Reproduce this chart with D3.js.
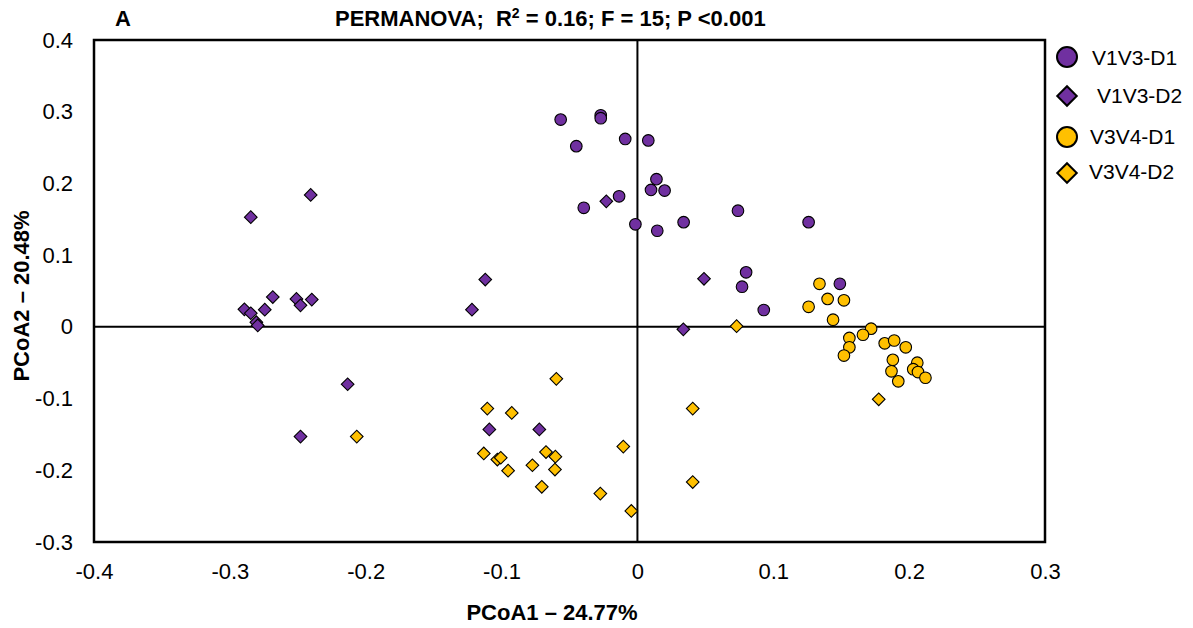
<!DOCTYPE html>
<html>
<head>
<meta charset="utf-8">
<script src="https://cdn.jsdelivr.net/npm/d3@7"></script>
<style>
  html, body { margin: 0; padding: 0; background: #fff; }
  svg text { font-family: "Liberation Sans", Arial, sans-serif; fill: #000; }
</style>
</head>
<body>
<svg id="chart" width="1193" height="628"></svg>
<script>
// PCoA ordination: one array of [PCoA1, PCoA2] pairs per group
const seriesNames = ["V1V3-D1", "V1V3-D2", "V3V4-D1", "V3V4-D2"];

const v1v3D1 = [
  [-0.0565, 0.289], [-0.027, 0.295], [-0.027, 0.291], [-0.009, 0.262], [0.008, 0.260],
  [-0.045, 0.252], [0.014, 0.206], [0.010, 0.191], [0.020, 0.190], [-0.0135, 0.182],
  [-0.0395, 0.166], [-0.0015, 0.143], [0.0146, 0.134], [0.034, 0.146], [0.074, 0.162],
  [0.126, 0.146], [0.080, 0.076], [0.077, 0.056], [0.093, 0.0235], [0.149, 0.060]
];

const v1v3D2 = [
  [-0.2405, 0.184], [-0.2846, 0.153], [-0.2684, 0.0416], [-0.251, 0.039], [-0.2397, 0.038],
  [-0.248, 0.030], [-0.2893, 0.0244], [-0.2846, 0.019], [-0.2743, 0.024], [-0.2805, 0.0065],
  [-0.2795, 0.002], [-0.112, 0.066], [-0.1218, 0.024], [-0.2133, -0.080], [-0.248, -0.153],
  [-0.109, -0.143], [-0.0722, -0.143], [-0.0229, 0.175], [0.049, 0.067], [0.0338, -0.0035]
];

const v3v4D1 = [
  [0.134, 0.060], [0.140, 0.039], [0.152, 0.037], [0.126, 0.028], [0.144, 0.010],
  [0.172, -0.0025], [0.166, -0.011], [0.156, -0.0155], [0.156, -0.0285], [0.152, -0.040],
  [0.182, -0.023], [0.189, -0.019], [0.1975, -0.0285], [0.188, -0.046], [0.187, -0.062],
  [0.206, -0.050], [0.203, -0.059], [0.2065, -0.063], [0.212, -0.071], [0.192, -0.076]
];

const v3v4D2 = [
  [0.073, 0.001], [0.1776, -0.101], [-0.2066, -0.153], [-0.0597, -0.0725], [-0.1105, -0.114],
  [-0.0925, -0.120], [-0.1131, -0.1765], [-0.1031, -0.185], [-0.1006, -0.1825], [-0.0952, -0.2005],
  [-0.0773, -0.193], [-0.0673, -0.1746], [-0.0604, -0.181], [-0.0607, -0.199], [-0.0704, -0.223],
  [-0.0104, -0.167], [-0.0273, -0.2325], [-0.0045, -0.2567], [0.0407, -0.114], [0.0407, -0.2164]
];

const xTicks = [-0.4, -0.3, -0.2, -0.1, 0, 0.1, 0.2, 0.3];
const yTicks = [-0.3, -0.2, -0.1, 0, 0.1, 0.2, 0.3, 0.4];

const titleLetter = "A";
const xTitle = "PCoA1 \u2013 24.77%";
const yTitle = "PCoA2 \u2013 20.48%";

const purple = "#7030A0";
const gold = "#FFC000";

const groups = [
  { name: seriesNames[0], data: v1v3D1, shape: "circle", color: purple },
  { name: seriesNames[1], data: v1v3D2, shape: "diamond", color: purple },
  { name: seriesNames[2], data: v3v4D1, shape: "circle", color: gold },
  { name: seriesNames[3], data: v3v4D2, shape: "diamond", color: gold }
];

const svg = d3.select("#chart");
const plot = { left: 94, right: 1045, top: 40, bottom: 542 };

const x = d3.scaleLinear().domain([-0.4, 0.3]).range([plot.left, plot.right]);
const y = d3.scaleLinear().domain([-0.3, 0.4]).range([plot.bottom, plot.top]);

const fmt = v => (v === 0 ? "0" : d3.format(".1f")(v).replace("\u2212", "-"));

// zero reference lines
svg.append("line")
  .attr("x1", x(0)).attr("x2", x(0)).attr("y1", y(0.4)).attr("y2", y(-0.3))
  .attr("stroke", "#000").attr("stroke-width", 2);
svg.append("line")
  .attr("x1", x(-0.4)).attr("x2", x(0.3)).attr("y1", y(0)).attr("y2", y(0))
  .attr("stroke", "#000").attr("stroke-width", 2);

// frame
svg.append("rect")
  .attr("x", plot.left).attr("y", plot.top)
  .attr("width", plot.right - plot.left).attr("height", plot.bottom - plot.top)
  .attr("fill", "none").attr("stroke", "#000").attr("stroke-width", 2.5);

// axes (labels only, no tick marks)
const xAxis = svg.append("g")
  .attr("transform", `translate(0,${plot.bottom})`)
  .call(d3.axisBottom(x).tickValues(xTicks).tickFormat(fmt).tickSize(0).tickPadding(21));
const yAxis = svg.append("g")
  .attr("transform", `translate(${plot.left},0)`)
  .call(d3.axisLeft(y).tickValues(yTicks).tickFormat(fmt).tickSize(0).tickPadding(21));
[xAxis, yAxis].forEach(g => {
  g.select(".domain").remove();
  g.selectAll("text")
    .attr("font-family", "'Liberation Sans', Arial, sans-serif")
    .attr("font-size", 22).attr("fill", "#000");
});

// markers
const diamond = d3.symbol().type(d3.symbolSquare).size(80);
groups.forEach(gr => {
  const g = svg.append("g");
  if (gr.shape === "circle") {
    g.selectAll("circle").data(gr.data).join("circle")
      .attr("cx", d => x(d[0])).attr("cy", d => y(d[1])).attr("r", 5.8)
      .attr("fill", gr.color).attr("stroke", "#000").attr("stroke-width", 1.1);
  } else {
    g.selectAll("path").data(gr.data).join("path")
      .attr("d", diamond)
      .attr("transform", d => `translate(${x(d[0])},${y(d[1])}) rotate(45)`)
      .attr("fill", gr.color).attr("stroke", "#000").attr("stroke-width", 1.1);
  }
});

// title
svg.append("text").attr("x", 115).attr("y", 26)
  .attr("font-size", 22).attr("font-weight", "bold").text(titleLetter);
const t = svg.append("text").attr("x", 335).attr("y", 26)
  .attr("font-size", 22).attr("font-weight", "bold").attr("xml:space", "preserve");
t.append("tspan").text("PERMANOVA;  R");
t.append("tspan").attr("font-size", 14).attr("dy", -8).text("2");
t.append("tspan").attr("dy", 8).text(" = 0.16; F = 15; P <0.001");

// axis titles
svg.append("text").attr("x", 552).attr("y", 620).attr("text-anchor", "middle")
  .attr("font-size", 22).attr("font-weight", "bold").text(xTitle);
svg.append("text")
  .attr("transform", "translate(29,296) rotate(-90)")
  .attr("text-anchor", "middle")
  .attr("font-size", 22).attr("font-weight", "bold").text(yTitle);

// legend
const legendRows = [
  { cy: 57, tx: 1092, ty: 65 },
  { cy: 96, tx: 1097, ty: 103 },
  { cy: 137, tx: 1090, ty: 144 },
  { cy: 173, tx: 1089, ty: 179 }
];
const legendDiamond = d3.symbol().type(d3.symbolSquare).size(190);
groups.forEach((gr, i) => {
  const row = legendRows[i];
  if (gr.shape === "circle") {
    svg.append("circle").attr("cx", 1067).attr("cy", row.cy).attr("r", 10)
      .attr("fill", gr.color).attr("stroke", "#000").attr("stroke-width", 2);
  } else {
    svg.append("path").attr("d", legendDiamond)
      .attr("transform", `translate(1067,${row.cy}) rotate(45)`)
      .attr("fill", gr.color).attr("stroke", "#000").attr("stroke-width", 2);
  }
  svg.append("text").attr("x", row.tx).attr("y", row.ty)
    .attr("font-size", 21).text(gr.name);
});
</script>
</body>
</html>
